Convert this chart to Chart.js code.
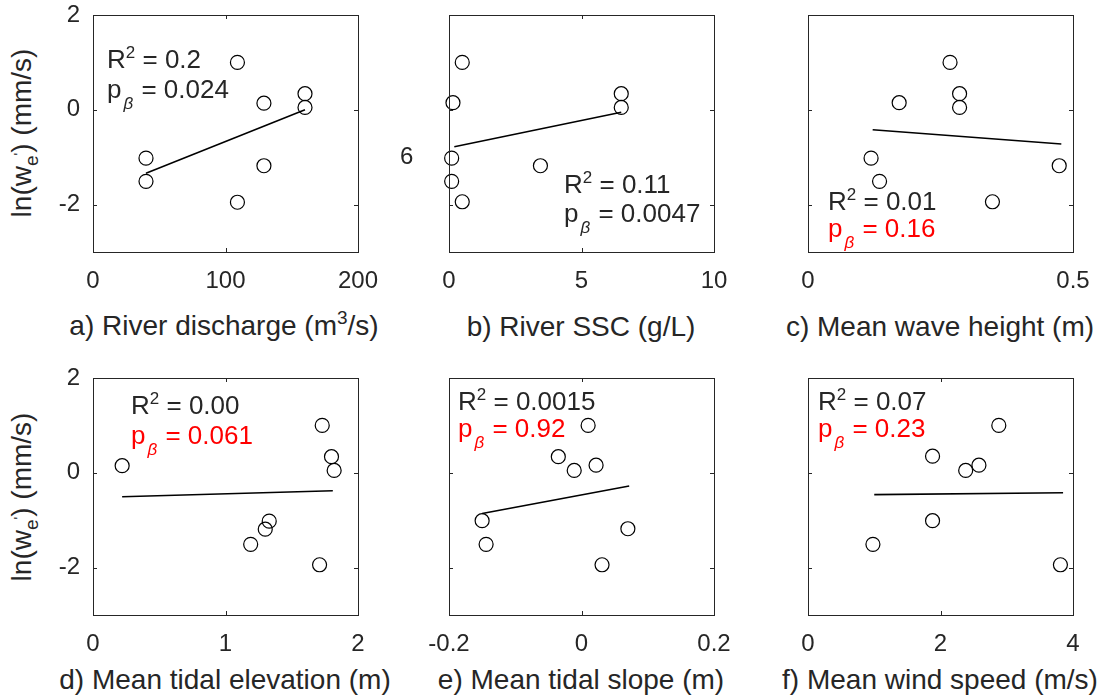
<!DOCTYPE html>
<html>
<head>
<meta charset="utf-8">
<script src="https://cdn.jsdelivr.net/npm/chart.js@4/dist/chart.umd.min.js"></script>
<style>
  body { margin: 0; background: #fff; }
  #wrap { position: relative; width: 1101px; height: 698px; overflow: hidden;
          font-family: "Liberation Sans", Arial, sans-serif; color: #262626; }
  canvas { position: absolute; }
  .t { position: absolute; white-space: nowrap; font-size: 26px; line-height: 26px; }
  .red { color: #ff0000; }
  .sup { font-size: 17px; position: relative; top: -10px; }
  .beta { font-size: 17px; position: relative; top: 11px; margin-left: 2px; margin-right: 1px; font-style: italic; }
  .xt { position: absolute; white-space: nowrap; font-size: 28px; line-height: 32px; transform: translate(-50%, -50%); }
  .yt { position: absolute; white-space: nowrap; font-size: 28px; line-height: 32px; transform: translate(-50%, -50%) rotate(-90deg); }
  .xt .sup { font-size: 19px; top: -11px; }
  .sb { font-size: 19px; position: relative; top: 7px; }
  .pr { font-size: 14px; position: relative; top: -14px; }
</style>
</head>
<body>
<div id="wrap">
  <canvas id="ca"></canvas><canvas id="cb"></canvas><canvas id="cc"></canvas>
  <canvas id="cd"></canvas><canvas id="ce"></canvas><canvas id="cf"></canvas>

  <div class="yt" style="left:24px;top:133px">ln(w<span class="sb">e<span class="pr">'</span></span>) (mm/s)</div>
  <div class="yt" style="left:24px;top:497px">ln(w<span class="sb">e<span class="pr">'</span></span>) (mm/s)</div>

  <div class="xt" style="left:224px;top:327px">a) River discharge (m<span class="sup">3</span>/s)</div>
  <div class="xt" style="left:581px;top:327px">b) River SSC (g/L)</div>
  <div class="xt" style="left:940px;top:327px">c) Mean wave height (m)</div>
  <div class="xt" style="left:225px;top:680px">d) Mean tidal elevation (m)</div>
  <div class="xt" style="left:581px;top:680px">e) Mean tidal slope (m)</div>
  <div class="xt" style="left:940px;top:680px">f) Mean wind speed (m/s)</div>

  <div class="t" style="left:400px;top:144px;font-size:24px;line-height:24px">6</div>

  <div class="t" style="left:107px;top:46px">R<span class="sup">2</span> = 0.2</div>
  <div class="t" style="left:107px;top:76px">p<span class="beta">β</span> = 0.024</div>
  <div class="t" style="left:564px;top:171px">R<span class="sup">2</span> = 0.11</div>
  <div class="t" style="left:564px;top:200px">p<span class="beta">β</span> = 0.0047</div>
  <div class="t" style="left:828px;top:188px">R<span class="sup">2</span> = 0.01</div>
  <div class="t red" style="left:828px;top:215px">p<span class="beta">β</span> = 0.16</div>
  <div class="t" style="left:131px;top:392px">R<span class="sup">2</span> = 0.00</div>
  <div class="t red" style="left:131px;top:422px">p<span class="beta">β</span> = 0.061</div>
  <div class="t" style="left:458px;top:388px">R<span class="sup">2</span> = 0.0015</div>
  <div class="t red" style="left:458px;top:415px">p<span class="beta">β</span> = 0.92</div>
  <div class="t" style="left:818px;top:388px">R<span class="sup">2</span> = 0.07</div>
  <div class="t red" style="left:818px;top:415px">p<span class="beta">β</span> = 0.23</div>
</div>

<script>
// ln(we') values and predictors
const yTicks = [-2, 0, 2];

const dischargeX = [40, 40, 109, 109, 129, 129, 160, 160];
const dischargeY = [-1.02, -1.51, 1.0, -1.95, 0.14, -1.18, 0.34, 0.05];
const dischargeFitX = [40, 160];
const dischargeFitY = [-1.34, 0.0];
const dischargeTicks = [0, 100, 200];

const sscX = [0.5, 0.15, 0.1, 0.1, 0.5, 3.45, 6.5, 6.5];
const sscY = [1.0, 0.15, -1.02, -1.51, -1.94, -1.18, 0.34, 0.05];
const sscFitX = [0.2, 6.5];
const sscFitY = [-0.78, -0.05];
const sscTicks = [0, 5, 10];

const waveX = [0.268, 0.172, 0.286, 0.286, 0.119, 0.135, 0.348, 0.474];
const waveY = [1.0, 0.15, 0.34, 0.05, -1.02, -1.51, -1.94, -1.18];
const waveFitX = [0.122, 0.478];
const waveFitY = [-0.42, -0.72];
const waveTicks = [0, 0.5];

const tideElevX = [0.22, 1.73, 1.80, 1.82, 1.33, 1.30, 1.19, 1.71];
const tideElevY = [0.15, 1.0, 0.34, 0.05, -1.02, -1.19, -1.51, -1.94];
const tideElevFitX = [0.22, 1.81];
const tideElevFitY = [-0.505, -0.38];
const tideElevTicks = [0, 1, 2];

const tideSlopeX = [0.010, -0.035, -0.011, 0.022, -0.150, -0.144, 0.070, 0.031];
const tideSlopeY = [1.0, 0.34, 0.05, 0.16, -1.01, -1.51, -1.18, -1.94];
const tideSlopeFitX = [-0.150, 0.072];
const tideSlopeFitY = [-0.86, -0.28];
const tideSlopeTicks = [-0.2, 0, 0.2];

const windX = [2.88, 1.88, 2.38, 2.58, 1.88, 0.98, 3.81];
const windY = [1.0, 0.35, 0.05, 0.16, -1.01, -1.51, -1.94];
const windFitX = [1.0, 3.85];
const windFitY = [-0.46, -0.42];
const windTicks = [0, 2, 4];

const FONT = { family: '"Liberation Sans", Arial, sans-serif', size: 24 };
const INK = '#262626';

// box around the axes with MATLAB-style inward ticks
const boxPlugin = {
  id: 'box',
  afterDatasetsDraw(chart) {
    const { ctx, chartArea: a, scales: { x, y } } = chart;
    ctx.save();
    ctx.strokeStyle = INK;
    ctx.lineWidth = 1;
    ctx.strokeRect(a.left + 0.5, a.top + 0.5, a.width, a.height);
    ctx.beginPath();
    x.ticks.forEach(t => {
      const px = Math.round(x.getPixelForValue(t.value)) + 0.5;
      ctx.moveTo(px, a.bottom); ctx.lineTo(px, a.bottom - 4);
      ctx.moveTo(px, a.top); ctx.lineTo(px, a.top + 4);
    });
    y.ticks.forEach(t => {
      const py = Math.round(y.getPixelForValue(t.value)) + 0.5;
      ctx.moveTo(a.left, py); ctx.lineTo(a.left + 4, py);
      ctx.moveTo(a.right, py); ctx.lineTo(a.right - 4, py);
    });
    ctx.stroke();
    ctx.restore();
  }
};

// canvas = box plus 50px on the left, 40 right, 30 top, 45 bottom
function panel(id, left, top, xmin, xmax, xTicks, showY, xs, ys, fx, fy) {
  const cv = document.getElementById(id);
  cv.width = 355; cv.height = 312;
  cv.style.left = (left - 50) + 'px';
  cv.style.top = (top - 30) + 'px';
  cv.style.width = '355px'; cv.style.height = '312px';
  new Chart(cv, {
    type: 'scatter',
    data: {
      datasets: [
        {
          data: xs.map((v, i) => ({ x: v, y: ys[i] })),
          pointStyle: 'circle',
          pointRadius: 7,
          borderColor: '#000',
          borderWidth: 1.2,
          backgroundColor: 'rgba(0,0,0,0)',
          clip: false
        },
        {
          data: fx.map((v, i) => ({ x: v, y: fy[i] })),
          showLine: true,
          pointRadius: 0,
          borderColor: '#000',
          borderWidth: 1.6,
          clip: false
        }
      ]
    },
    options: {
      responsive: false,
      animation: false,
      layout: { padding: { top: 30, right: 40, left: 0, bottom: 0 } },
      plugins: { legend: { display: false }, tooltip: { enabled: false } },
      scales: {
        x: {
          type: 'linear', min: xmin, max: xmax,
          grid: { display: false, drawTicks: false },
          border: { display: false },
          ticks: { font: FONT, color: INK, padding: 15, maxRotation: 0, callback: v => String(v) },
          afterBuildTicks: s => { s.ticks = xTicks.map(v => ({ value: v })); },
          afterFit: s => { s.height = 45; }
        },
        y: {
          type: 'linear', min: -3, max: 2,
          grid: { display: false, drawTicks: false },
          border: { display: false },
          ticks: { display: showY, font: FONT, color: INK, padding: 13, callback: v => String(v) },
          afterBuildTicks: s => { s.ticks = yTicks.map(v => ({ value: v })); },
          afterFit: s => { s.width = 50; }
        }
      }
    },
    plugins: [boxPlugin]
  });
}

panel('ca', 93, 15, 0, 200, dischargeTicks, true, dischargeX, dischargeY, dischargeFitX, dischargeFitY);
panel('cb', 449, 15, 0, 10, sscTicks, false, sscX, sscY, sscFitX, sscFitY);
panel('cc', 808, 15, 0, 0.5, waveTicks, false, waveX, waveY, waveFitX, waveFitY);
panel('cd', 93, 378, 0, 2, tideElevTicks, true, tideElevX, tideElevY, tideElevFitX, tideElevFitY);
panel('ce', 449, 378, -0.2, 0.2, tideSlopeTicks, false, tideSlopeX, tideSlopeY, tideSlopeFitX, tideSlopeFitY);
panel('cf', 808, 378, 0, 4, windTicks, false, windX, windY, windFitX, windFitY);
</script>
</body>
</html>
